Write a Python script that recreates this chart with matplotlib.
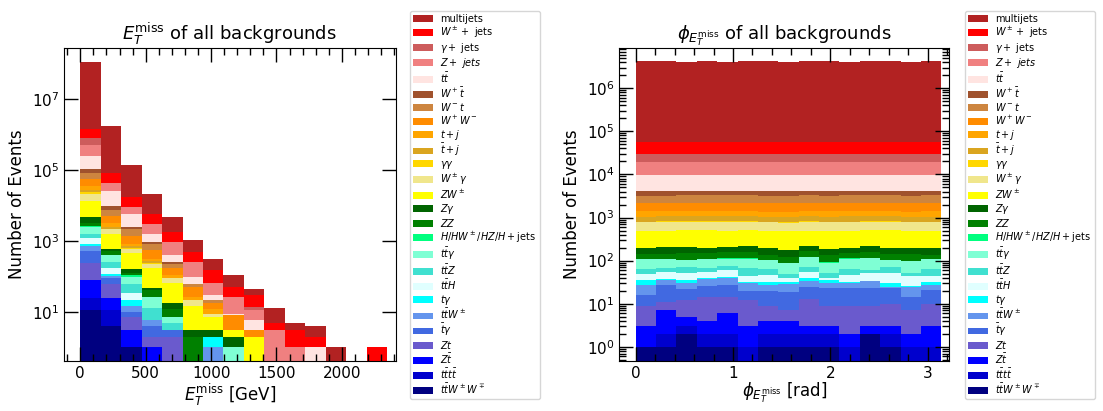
import numpy as np
import matplotlib
matplotlib.use("Agg")
import matplotlib.pyplot as plt
from matplotlib.ticker import FixedLocator, MultipleLocator, LogLocator, NullLocator, LogFormatterSciNotation, NullFormatter

# ---------------- data ----------------
labels = [r"$t\bar{t}W^\pm W^\mp$", r"$t\bar{t}t\bar{t}$", r"$Z\bar{t}$", r"$Zt$", r"$\bar{t}\gamma$",
          r"$t\bar{t}W^\pm$", r"$t\gamma$", r"$t\bar{t}H$", r"$t\bar{t}Z$", r"$t\bar{t}\gamma$",
          r"$H/HW^\pm/HZ/H+$jets", r"$ZZ$", r"$Z\gamma$", r"$ZW^\pm$", r"$W^\pm\gamma$", r"$\gamma\gamma$",
          r"$\bar{t}+j$", r"$t+j$", r"$W^+W^-$", r"$W^-t$", r"$W^+\bar{t}$", r"$t\bar{t}$",
          r"$Z+\ jets$", r"$\gamma+$ jets", r"$W^\pm+$ jets", "multijets"]
colors = ["navy", "mediumblue", "blue", "slateblue", "royalblue", "cornflowerblue", "cyan", "lightcyan",
          "turquoise", "aquamarine", "springgreen", "green", "darkgreen", "yellow", "khaki", "gold",
          "goldenrod", "orange", "darkorange", "peru", "sienna", "mistyrose", "lightcoral", "indianred",
          "red", "firebrick"]

met_max = 2345.0
n_bins = 15

# E_T^miss histogram counts per background (15 bins)
met_ttWW      = [11, 4, 1, 0, 0, 0, 0, 0, 0, 0, 0, 0, 0, 0, 0]
met_tttt      = [14, 7, 0, 0, 0, 0, 0, 0, 0, 0, 0, 0, 0, 0, 0]
met_Ztbar     = [54, 14, 2, 1, 0, 0, 0, 0, 0, 0, 0, 0, 0, 0, 0]
met_Zt        = [155, 35, 4, 1, 2, 0, 0, 0, 0, 0, 0, 0, 0, 0, 0]
met_tbargam   = [291, 33, 3, 2, 1, 0, 0, 0, 0, 0, 0, 0, 0, 0, 0]
met_ttW       = [199, 9, 5, 2, 0, 0, 1, 0, 0, 0, 0, 0, 0, 0, 0]
met_tgam      = [127, 13, 6, 0, 0, 0, 1, 0, 0, 0, 0, 0, 0, 0, 0]
met_ttH       = [379, 59, 14, 0, 0, 0, 0, 0, 0, 0, 0, 0, 0, 0, 0]
met_ttZ       = [392, 83, 25, 7, 2, 0, 0, 0, 0, 0, 0, 0, 0, 0, 0]
met_ttgam     = [890, 141, 38, 13, 2, 0, 0, 1, 0, 0, 0, 0, 0, 0, 0]
met_H         = [118, 19, 9, 0, 0, 0, 0, 0, 0, 0, 0, 0, 0, 0, 0]
met_ZZ        = [606, 96, 16, 15, 5, 2, 0, 0, 0, 0, 0, 0, 0, 0, 0]
met_Zgam      = [1550, 76, 35, 5, 6, 1, 1, 1, 0, 0, 0, 0, 0, 0, 0]
met_ZW        = [8397, 996, 310, 124, 49, 12, 4, 1, 2, 0, 0, 0, 0, 0, 0]
met_Wgam      = [7710, 553, 149, 54, 21, 7, 2, 0, 0, 0, 0, 0, 0, 0, 0]
met_gamgam    = [3095, 101, 29, 10, 0, 0, 0, 0, 0, 0, 0, 0, 0, 0, 0]
met_tbarj     = [3554, 216, 78, 35, 0, 0, 0, 0, 0, 0, 0, 0, 0, 0, 0]
met_tj        = [8766, 781, 89, 40, 23, 4, 3, 0, 0, 0, 0, 0, 0, 0, 0]
met_WW        = [19926, 1893, 600, 241, 64, 25, 6, 5, 1, 0, 0, 0, 0, 0, 0]
met_Wmt       = [26942, 2284, 775, 263, 53, 12, 3, 0, 0, 0, 0, 0, 0, 0, 0]
met_Wptbar    = [23976, 2587, 382, 142, 30, 0, 0, 0, 0, 0, 0, 0, 0, 0, 0]
met_tt        = [149888, 16303, 3318, 667, 141, 35, 9, 1, 3, 0, 0, 1, 0, 0, 0]
met_Zjets     = [255821, 16355, 3232, 1398, 557, 159, 34, 17, 5, 3, 1, 0, 0, 0, 0]
met_gamjets   = [318903, 2000, 0, 0, 0, 0, 0, 0, 3, 0, 0, 0, 0, 0, 0]
met_Wjets     = [681797, 36615, 8663, 2734, 865, 222, 88, 25, 16, 2, 2, 1, 0, 0, 1]
met_multijets = [113300000, 1697000, 126761, 15139, 2857, 593, 151, 59, 13, 8, 2, 2, 1, 0, 0]

# phi(E_T^miss) histogram counts per background (15 bins over [0, pi])
phi_ttWW      = [1, 1, 2, 1, 1, 0, 1, 1, 1, 1, 0, 2, 1, 0, 0]
phi_tttt      = [0, 1, 1, 1, 1, 1, 1, 1, 1, 1, 1, 0, 1, 1, 1]
phi_Ztbar     = [2, 5, 2, 2, 4, 2, 2, 2, 1, 1, 1, 1, 1, 1, 2]
phi_Zt        = [6, 4, 7, 10, 8, 9, 5, 3, 10, 6, 7, 6, 7, 5, 7]
phi_tbargam   = [7, 16, 10, 12, 13, 8, 11, 12, 11, 14, 14, 14, 13, 7, 11]
phi_ttW       = [11, 8, 9, 11, 13, 11, 7, 9, 9, 8, 7, 10, 2, 11, 6]
phi_tgam      = [8, 2, 4, 2, 2, 1, 5, 4, 6, 4, 2, 1, 5, 1, 5]
phi_ttH       = [15, 18, 17, 16, 18, 13, 14, 7, 16, 4, 15, 17, 23, 17, 13]
phi_ttZ       = [13, 13, 18, 11, 15, 21, 19, 11, 17, 13, 16, 11, 19, 10, 18]
phi_ttgam     = [46, 39, 33, 43, 37, 46, 38, 36, 47, 37, 48, 52, 31, 44, 44]
phi_H         = [2, 2, 2, 2, 2, 2, 2, 2, 2, 2, 2, 2, 2, 2, 2]
phi_ZZ        = [30, 35, 44, 43, 43, 46, 32, 31, 42, 46, 41, 46, 41, 46, 28]
phi_Zgam      = [53, 61, 63, 47, 48, 56, 57, 59, 57, 50, 47, 52, 55, 50, 61]
phi_ZW        = [298, 285, 290, 300, 295, 285, 300, 305, 280, 300, 295, 290, 300, 295, 292]
phi_Wgam      = [280, 290, 285, 280, 290, 285, 280, 275, 290, 285, 280, 290, 285, 280, 285]
phi_gamgam    = [30, 30, 30, 30, 30, 30, 30, 30, 30, 30, 30, 30, 30, 30, 30]
phi_tbarj     = [247, 250, 240, 255, 245, 250, 240, 250, 245, 250, 255, 245, 250, 240, 248]
phi_tj        = [333, 340, 330, 325, 340, 335, 330, 340, 335, 330, 325, 340, 335, 330, 336]
phi_WW        = [810, 800, 820, 810, 790, 815, 805, 800, 820, 810, 800, 815, 805, 810, 808]
phi_Wmt       = [1050, 1040, 1060, 1050, 1070, 1040, 1050, 1060, 1040, 1050, 1060, 1050, 1040, 1055, 1050]
phi_Wptbar    = [830, 850, 820, 840, 830, 850, 820, 840, 830, 845, 820, 835, 830, 840, 830]
phi_tt        = [5730, 5700, 5750, 5720, 5740, 5700, 5760, 5730, 5710, 5740, 5720, 5750, 5700, 5730, 5740]
phi_Zjets     = [9200, 9300, 9100, 9250, 9200, 9150, 9300, 9200, 9250, 9100, 9200, 9300, 9150, 9200, 9250]
phi_gamjets   = [10500, 10400, 10600, 10500, 10450, 10550, 10500, 10400, 10600, 10500, 10450, 10550, 10500, 10400, 10500]
phi_Wjets     = [26500, 26800, 26300, 26600, 26400, 26700, 26500, 26300, 26600, 26500, 26800, 26400, 26600, 26500, 26400]
phi_multijets = [4110000, 4120000, 4100000, 4115000, 4105000, 4110000, 4120000, 4100000, 4110000, 4115000, 4105000, 4110000, 4120000, 4100000, 4110000]

met_series = [met_ttWW, met_tttt, met_Ztbar, met_Zt, met_tbargam, met_ttW, met_tgam, met_ttH, met_ttZ,
              met_ttgam, met_H, met_ZZ, met_Zgam, met_ZW, met_Wgam, met_gamgam, met_tbarj, met_tj, met_WW,
              met_Wmt, met_Wptbar, met_tt, met_Zjets, met_gamjets, met_Wjets, met_multijets]
phi_series = [phi_ttWW, phi_tttt, phi_Ztbar, phi_Zt, phi_tbargam, phi_ttW, phi_tgam, phi_ttH, phi_ttZ,
              phi_ttgam, phi_H, phi_ZZ, phi_Zgam, phi_ZW, phi_Wgam, phi_gamgam, phi_tbarj, phi_tj, phi_WW,
              phi_Wmt, phi_Wptbar, phi_tt, phi_Zjets, phi_gamjets, phi_Wjets, phi_multijets]

# ---------------- plotting ----------------
plt.rcParams['font.family'] = ['DejaVu Sans']
plt.rcParams['mathtext.fontset'] = 'dejavusans'

fig = plt.figure(figsize=(11.03, 4.11), dpi=100)
W, H = 1103.0, 411.0
ax1 = fig.add_axes([64.3 / W, 1 - 361 / H, (395.5 - 64.3) / W, (361 - 47.7) / H])
ax2 = fig.add_axes([619.3 / W, 1 - 361 / H, (949 - 619.3) / W, (361 - 47.7) / H])

met_edges = np.linspace(0, met_max, n_bins + 1)
phi_edges = np.linspace(0, np.pi, n_bins + 1)
met_centers = 0.5 * (met_edges[1:] + met_edges[:-1])
phi_centers = 0.5 * (phi_edges[1:] + phi_edges[:-1])


def draw(ax, centers, edges, series):
    xs = [centers for _ in series]
    ws = [np.asarray(s, dtype=float) for s in series]
    _, _, patches = ax.hist(xs, bins=edges, weights=ws, stacked=True, log=True,
                            color=colors, label=labels, histtype='bar', rwidth=1.0)
    return patches


p1 = draw(ax1, met_centers, met_edges, met_series)
p2 = draw(ax2, phi_centers, phi_edges, phi_series)

for ax in (ax1, ax2):
    ax.tick_params(which='both', direction='in', top=True, right=True, labelsize=11)
    ax.tick_params(which='major', length=10, width=1)
    ax.tick_params(which='minor', length=5, width=1)

# left axis
ax1.set_xlim(-122, 2410)
ax1.set_ylim(0.41, 2.9e8)
ax1.xaxis.set_major_locator(MultipleLocator(500))
ax1.xaxis.set_minor_locator(MultipleLocator(100))
ax1.yaxis.set_major_locator(FixedLocator([1e1, 1e3, 1e5, 1e7]))
ax1.yaxis.set_major_formatter(LogFormatterSciNotation())
ax1.yaxis.set_minor_locator(NullLocator())
ax1.set_title(r"$E_T^{\rm miss}$ of all backgrounds", fontsize=13)
ax1.set_xlabel(r"$E_T^{\rm miss}$ [GeV]", fontsize=12, labelpad=1)
ax1.set_ylabel("Number of Events", fontsize=12)

# right axis
ax2.set_xlim(-0.168, 3.22)
ax2.set_ylim(0.47, 8.7e6)
ax2.xaxis.set_major_locator(MultipleLocator(1))
ax2.xaxis.set_minor_locator(MultipleLocator(0.2))
ax2.yaxis.set_major_locator(LogLocator(base=10, numticks=20))
ax2.yaxis.set_minor_locator(LogLocator(base=10, subs=np.arange(2, 10), numticks=20))
ax2.yaxis.set_minor_formatter(NullFormatter())
ax2.set_title(r"$\phi_{E_T^{\rm miss}}$ of all backgrounds", fontsize=13)
ax2.set_xlabel(r"$\phi_{E_T^{\rm miss}}$ [rad]", fontsize=12, labelpad=0)
ax2.set_ylabel("Number of Events", fontsize=12)

for ax, x0 in ((ax1, 405), (ax2, 960)):
    h, l = ax.get_legend_handles_labels()
    fig.legend(h[::-1], l[::-1], loc='upper left', bbox_to_anchor=(x0 / W, 1 - 6 / H),
               fontsize=7, frameon=True, labelspacing=0.09, borderpad=0.35)

fig.savefig("out.png", dpi=100)
